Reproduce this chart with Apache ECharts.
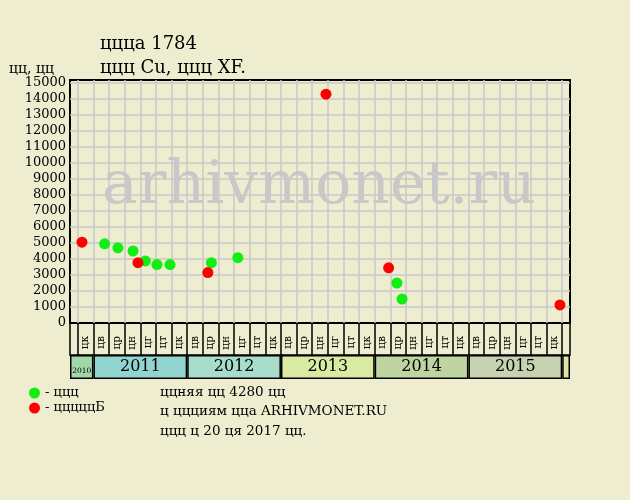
<!DOCTYPE html>
<html>
<head>
<meta charset="utf-8">
<script src="https://cdn.jsdelivr.net/npm/echarts@6/dist/echarts.min.js"></script>
<style>
html,body{margin:0;padding:0;background:#efedcf;}
#c{width:630px;height:500px;}
</style>
</head>
<body>
<div id="c"></div>
<script>
// ---- data ----
const axisStart = '2010-10-01';
const axisEnd = '2016-02-01';
const greenName = 'ццц';
const redName = 'цццццБ';
const greenDates = ['2011-02-13','2011-04-05','2011-06-03','2011-07-21','2011-09-05','2011-10-26','2012-04-04','2012-07-16','2014-03-27','2014-04-16'];
const greenPrices = [4950,4700,4500,3880,3650,3650,3770,4080,2500,1500];
const redDates = ['2010-11-17','2011-06-22','2012-03-21','2013-06-24','2014-02-23','2015-12-23'];
const redPrices = [5050,3770,3150,14300,3450,1130];
const periodLabels = ['цв','цр','цн','цг','цт','цк'];
const firstColumnLabels = ['цк'];
const firstColumnStart = '2010-11-01';
const lastColumnEnd = '2016-01-01';
const years = ['2010','2011','2012','2013','2014','2015','2016'];
const yearLabels = ['2010','2011','2012','2013','2014','2015',''];
const yTicksMax = 15000;
const yStep = 1000;
const titleText = 'ццца 1784';
const subtitleText = 'ццц Cu, ццц XF.';
const yName = 'цц, цц';
const footerLines = ['ццняя цц 4280 цц','ц ццциям цца ARHIVMONET.RU','ццц ц 20 ця 2017 цц.'];

// ---- helpers ----
function monthIndex(s){
  const p = s.split('-').map(Number);
  const dim = new Date(p[0], p[1], 0).getDate();
  return (p[0]-2010)*12 + (p[1]-1) + (p[2]-1)/dim;
}
const X_MIN = monthIndex(axisStart), X_MAX = monthIndex(axisEnd);
const columnLabels = firstColumnLabels.slice();
for (let y = 2011; y <= 2015; y++) columnLabels.push(...periodLabels);

// layout
const G_LEFT = 70, G_W = 500, G_TOP = 80, G_H = 243;
const pxPerMonth = G_W/(X_MAX-X_MIN);
const colLeft = G_LEFT + (monthIndex(firstColumnStart)-X_MIN)*pxPerMonth;
const colRight = G_LEFT + (monthIndex(lastColumnEnd)-X_MIN)*pxPerMonth;
const Y_MAX = yTicksMax + 3/ (G_H-3) * yTicksMax;

const FONT = 'DejaVu Serif';
const yearColors = ['#a2d7aa','#92d4d0','#a8dccb','#d9eaa3','#bed5a2','#c6d2b0','#dbe6a6'];
const yearSeries = years.map((y,i)=>{
  const s = Math.max(X_MIN, monthIndex(y+'-01-01'));
  const e = Math.min(X_MAX, monthIndex((+y+1)+'-01-01'));
  return {
    type:'bar', xAxisIndex:2, yAxisIndex:2, stack:'yrs', barWidth:'100%', silent:true,
    data:[e-s],
    itemStyle:{color:yearColors[i], borderColor:'#000', borderWidth:1.5},
    label:{show:true, position:'inside', formatter:yearLabels[i], color:'#000', fontFamily:FONT,
      fontSize: i===0 ? 7.5 : 16, offset: i===0 ? [0,4] : [0,0]}
  };
});

const chart = echarts.init(document.getElementById('c'));
chart.setOption({
  animation:false,
  backgroundColor:'#efedcf',
  textStyle:{fontFamily:FONT},
  title:[
    {text:titleText, left:100, top:35, padding:0, textStyle:{fontFamily:FONT, fontSize:18, fontWeight:'normal', color:'#000'}},
    {text:subtitleText, left:100, top:59, padding:0, textStyle:{fontFamily:FONT, fontSize:18, fontWeight:'normal', color:'#000'}},
    {text:yName, left:9, top:62, padding:0, textStyle:{fontFamily:FONT, fontSize:14, fontWeight:'normal', color:'#000'}}
  ],
  legend:{
    data:[greenName, redName], orient:'vertical', left:29, top:386, padding:0, itemWidth:11, itemHeight:11, itemGap:1,
    icon:'circle', formatter:'- {name}', textStyle:{fontFamily:FONT, fontSize:13, color:'#000', lineHeight:14}
  },
  graphic:[
    {type:'text', x:319, y:217, z:1, silent:true, style:{text:'arhivmonet.ru', font:'60px "DejaVu Serif"', fill:'#c8c8c8', textAlign:'center', textVerticalAlign:'bottom'}},
    ...footerLines.map((t,i)=>({type:'text', x:160, y:[392,411,431][i], style:{text:t, font:'13.5px "DejaVu Serif"', fill:'#000', textVerticalAlign:'middle'}}))
  ],
  grid:[
    {left:G_LEFT, top:G_TOP, width:G_W, height:G_H, show:true, borderColor:'#000', borderWidth:2, backgroundColor:'transparent'},
    {left:colLeft, top:G_TOP, width:colRight-colLeft, height:G_H},
    {left:G_LEFT, top:G_TOP+G_H+32, width:G_W, height:24},
    {left:G_LEFT, top:G_TOP+G_H, width:G_W, height:32, show:true, borderColor:'#000', borderWidth:1.5, backgroundColor:'transparent'}
  ],
  xAxis:[
    {type:'value', gridIndex:0, min:X_MIN, max:X_MAX, show:false},
    {type:'category', gridIndex:1, data:columnLabels, boundaryGap:true,
      axisLine:{show:false},
      axisTick:{show:true, interval:0, length:32, lineStyle:{color:'#000', width:1.5}},
      splitLine:{show:true, interval:0, lineStyle:{color:'#c8c8cc', width:1.5}},
      axisLabel:{interval:0, rotate:90, fontSize:10.5, margin:13, color:'#000', fontFamily:FONT}},
    {type:'value', gridIndex:2, min:0, max:X_MAX-X_MIN, show:false},
    {type:'value', gridIndex:3, show:false}
  ],
  yAxis:[
    {type:'value', gridIndex:0, min:0, max:Y_MAX, interval:yStep,
      axisLine:{show:false}, axisTick:{show:false},
      axisLabel:{showMaxLabel:false, margin:4, fontSize:13, color:'#000', fontFamily:FONT, formatter:v=>String(v)},
      splitLine:{show:true, showMinLine:false, showMaxLine:false, lineStyle:{color:'#c8c8cc', width:1.5}}},
    {type:'value', gridIndex:1, min:0, max:1, show:false},
    {type:'category', gridIndex:2, data:[''], show:false},
    {type:'value', gridIndex:3, show:false}
  ],
  series:[
    ...yearSeries,
    {name:greenName, type:'scatter', xAxisIndex:0, yAxisIndex:0, symbolSize:11, z:3,
      itemStyle:{color:'#11ee11', opacity:1},
      data:greenDates.map((d,i)=>[monthIndex(d), greenPrices[i]])},
    {name:redName, type:'scatter', xAxisIndex:0, yAxisIndex:0, symbolSize:11, z:4,
      itemStyle:{color:'#ff0000', opacity:1},
      data:redDates.map((d,i)=>[monthIndex(d), redPrices[i]])}
  ]
});
</script>
</body>
</html>
